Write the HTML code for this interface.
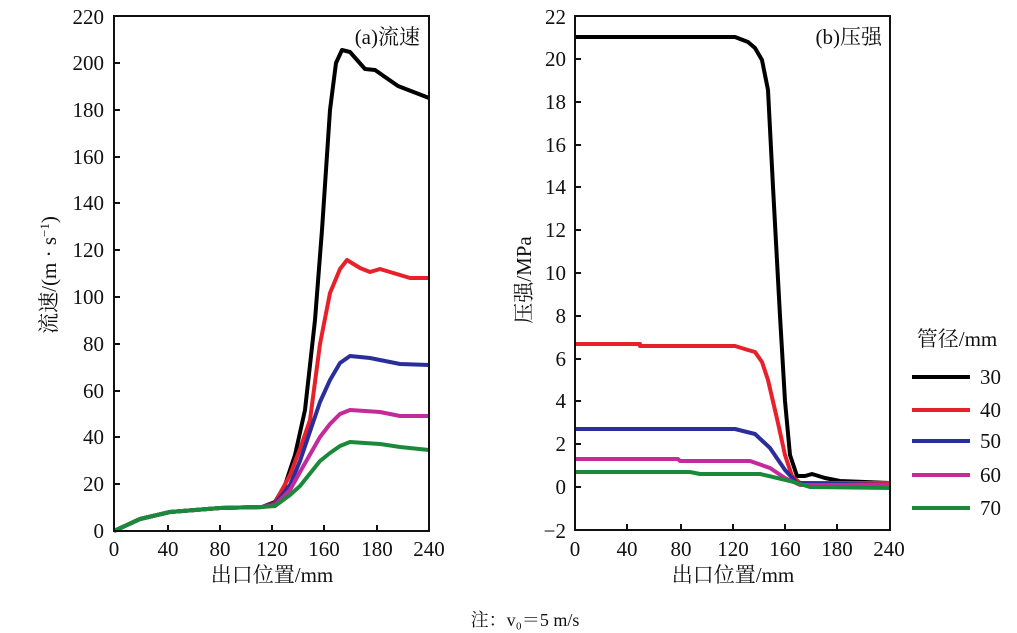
<!DOCTYPE html>
<html><head><meta charset="utf-8"><style>
body{margin:0;background:#fff}
svg{display:block}
text{font-family:"Liberation Serif","Noto Serif CJK SC",serif;fill:#111}
</style></head><body>
<svg width="1017" height="633" viewBox="0 0 1017 633">
<g fill="none" stroke-linejoin="round" stroke-width="4">
<polyline stroke="#000" points="114,531 140,519 170,512 220,508 262,507 275,502 285,485 295,455 305,410 315,320 322,230 330,110 336,63 342,50 350,52 365,69 375,70 398,86 429,98"/>
<polyline stroke="#e8202a" points="114,531 140,519 170,512 220,508 262,507 275,503 290,475 300,449 310,420 320,344 330,293 340,269 347,260 360,268 370,272 380,269 410,278 429,278"/>
<polyline stroke="#2a2e9a" points="114,531 140,519 170,512 220,508 262,507 275,504 290,485 300,461 320,402 330,380 340,363 350,356 370,358 400,364 429,365"/>
<polyline stroke="#c32a9a" points="114,531 140,519 170,512 220,508 262,507 275,505 290,490 300,472 320,437 330,424 340,414 350,410 380,412 400,416 429,416"/>
<polyline stroke="#1a8a3a" points="114,531 140,519 170,512 220,508 262,507 275,506 290,495 300,486 320,461 330,453 340,446 350,442 380,444 400,447 429,450"/>
<polyline stroke="#000" points="575,37 735,37 748,42 755,48 762,60 768,90 773,187 780,316 785,401 790,455 797,476 805,476 812,474 825,478 840,481 890,483"/>
<polyline stroke="#e8202a" points="575,344 640,344 640,346 735,346 748,350 755,352 762,362 768,380 778,423 785,455 792,476 800,483 890,483"/>
<polyline stroke="#2a2e9a" points="575,429 735,429 755,434 770,448 785,470 797,483 890,485"/>
<polyline stroke="#c32a9a" points="575,459 678,459 680,461 750,461 770,468 785,478 800,485 890,485"/>
<polyline stroke="#1a8a3a" points="575,472 690,472 700,474 760,474 790,481 810,487 890,488"/>
</g>
<g fill="none" stroke="#111" stroke-width="2">
<rect x="114" y="16" width="315" height="515"/>
<rect x="575" y="16" width="315" height="514"/>
<path d="M114,531h6M114,484h6M114,437h6M114,391h6M114,344h6M114,297h6M114,250h6M114,203h6M114,157h6M114,110h6M114,63h6
M168,531v-6M220,531v-6M272,531v-6M324,531v-6M377,531v-6
M575,487h6M575,444h6M575,401h6M575,359h6M575,316h6M575,273h6M575,230h6M575,187h6M575,145h6M575,102h6M575,59h6
M627,530v-6M681,530v-6M733,530v-6M785,530v-6M837,530v-6"/>
</g>
<g font-size="21" text-anchor="end">
<text x="104" y="538">0</text><text x="104" y="491">20</text><text x="104" y="444">40</text><text x="104" y="398">60</text><text x="104" y="351">80</text><text x="104" y="304">100</text><text x="104" y="257">120</text><text x="104" y="210">140</text><text x="104" y="164">160</text><text x="104" y="117">180</text><text x="104" y="70">200</text><text x="104" y="24">220</text>
<text x="566" y="538">−2</text><text x="566" y="494">0</text><text x="566" y="451">2</text><text x="566" y="408">4</text><text x="566" y="366">6</text><text x="566" y="323">8</text><text x="566" y="280">10</text><text x="566" y="237">12</text><text x="566" y="194">14</text><text x="566" y="152">16</text><text x="566" y="109">18</text><text x="566" y="66">20</text><text x="566" y="24">22</text>
</g>
<g font-size="21" text-anchor="middle">
<text x="114" y="556">0</text><text x="168" y="556">40</text><text x="220" y="556">80</text><text x="272" y="556">120</text><text x="324" y="556">160</text><text x="377" y="556">180</text><text x="429" y="556">240</text>
<text x="575" y="556">0</text><text x="627" y="556">40</text><text x="681" y="556">80</text><text x="733" y="556">120</text><text x="785" y="556">160</text><text x="837" y="556">180</text><text x="889" y="556">240</text>
<text x="272" y="582">出口位置/mm</text>
<text x="733" y="582">出口位置/mm</text>
<text x="525" y="626" font-size="18">注：v₀＝5 m/s</text>
</g>
<text x="420" y="44" font-size="21" text-anchor="end">(a)流速</text>
<text x="882" y="44" font-size="21" text-anchor="end">(b)压强</text>
<text transform="translate(56,275) rotate(-90)" font-size="21" text-anchor="middle">流速/(m · s<tspan font-size="13" dy="-7">−1</tspan><tspan dy="7">)</tspan></text>
<text transform="translate(531,280) rotate(-90)" font-size="21" text-anchor="middle">压强/MPa</text>
<text x="957" y="346" font-size="21" text-anchor="middle">管径/mm</text>
<g stroke-width="4">
<line x1="912" y1="377" x2="970" y2="377" stroke="#000"/>
<line x1="912" y1="410" x2="970" y2="410" stroke="#e8202a"/>
<line x1="912" y1="441" x2="970" y2="441" stroke="#2a2e9a"/>
<line x1="912" y1="475" x2="970" y2="475" stroke="#c32a9a"/>
<line x1="912" y1="508" x2="970" y2="508" stroke="#1a8a3a"/>
</g>
<g font-size="21">
<text x="980" y="384">30</text><text x="980" y="417">40</text><text x="980" y="448">50</text><text x="980" y="482">60</text><text x="980" y="515">70</text>
</g>
</svg>
</body></html>
